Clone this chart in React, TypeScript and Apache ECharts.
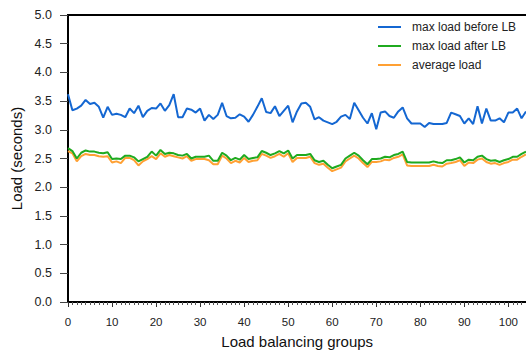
import React, { useEffect, useRef } from "react";
import * as echarts from "echarts";

const seriesNames = ["max load before LB", "max load after LB", "average load"];

const maxBefore = [
  3.62, 3.34, 3.37, 3.42, 3.52, 3.45, 3.47, 3.40, 3.21, 3.40, 3.26, 3.28, 3.26, 3.22, 3.37, 3.29, 3.42, 3.22, 3.33, 3.38,
  3.37, 3.46, 3.33, 3.43, 3.62, 3.22, 3.22, 3.37, 3.35, 3.30, 3.37, 3.16, 3.26, 3.19, 3.26, 3.47,
  3.24, 3.20, 3.21, 3.27, 3.23, 3.14, 3.26, 3.40, 3.55, 3.31, 3.29, 3.41, 3.24, 3.33, 3.42, 3.13, 3.32, 3.46, 3.47, 3.40,
  3.18, 3.22, 3.16, 3.13, 3.10, 3.14, 3.23, 3.26, 3.19, 3.47, 3.34, 3.21, 3.11,
  3.29, 3.01, 3.30, 3.32, 3.24, 3.21, 3.32, 3.39, 3.20, 3.11, 3.11, 3.11, 3.05, 3.12, 3.10, 3.10, 3.10, 3.12, 3.30, 3.27,
  3.24, 3.11, 3.20, 3.10, 3.41, 3.11, 3.37, 3.16, 3.16, 3.20, 3.13, 3.30, 3.30, 3.37, 3.20, 3.32,
];

const maxAfter = [
  2.68, 2.63, 2.50, 2.60, 2.64, 2.62, 2.62, 2.60, 2.59, 2.61, 2.49, 2.50, 2.49, 2.55, 2.55, 2.52, 2.45, 2.49, 2.53, 2.62,
  2.55, 2.65, 2.58, 2.60, 2.59, 2.56, 2.55, 2.58, 2.50, 2.53, 2.53, 2.53, 2.55, 2.46, 2.46,
  2.60, 2.55, 2.47, 2.51, 2.48, 2.56, 2.49, 2.51, 2.52, 2.63, 2.60, 2.56, 2.59, 2.63, 2.59, 2.64, 2.50, 2.56, 2.56, 2.56,
  2.58, 2.47, 2.44, 2.46, 2.39, 2.33, 2.36, 2.39, 2.50, 2.55, 2.60, 2.55, 2.47, 2.40,
  2.49, 2.49, 2.50, 2.53, 2.52, 2.56, 2.58, 2.62, 2.44, 2.43, 2.43, 2.43, 2.43, 2.43, 2.45, 2.43, 2.42, 2.47, 2.47, 2.49,
  2.52, 2.43, 2.48, 2.47, 2.53, 2.55, 2.49, 2.46, 2.47, 2.44, 2.47, 2.49, 2.53, 2.53, 2.58, 2.62,
];

const averageLoad = [
  2.63, 2.59, 2.45, 2.54, 2.58, 2.56, 2.56, 2.54, 2.53, 2.54, 2.43, 2.45, 2.42, 2.51, 2.51, 2.47, 2.38, 2.45, 2.49, 2.54,
  2.49, 2.59, 2.53, 2.56, 2.54, 2.52, 2.50, 2.54, 2.46, 2.49, 2.49, 2.49, 2.47, 2.40, 2.40,
  2.55, 2.50, 2.42, 2.46, 2.43, 2.51, 2.44, 2.46, 2.47, 2.58, 2.55, 2.51, 2.54, 2.58, 2.53, 2.59, 2.44, 2.51, 2.51, 2.51,
  2.53, 2.42, 2.39, 2.41, 2.34, 2.28, 2.31, 2.34, 2.45, 2.50, 2.55, 2.50, 2.42, 2.35,
  2.44, 2.44, 2.45, 2.48, 2.47, 2.51, 2.53, 2.57, 2.38, 2.37, 2.37, 2.37, 2.37, 2.37, 2.39, 2.37, 2.36, 2.41, 2.42, 2.44,
  2.47, 2.37, 2.43, 2.42, 2.48, 2.50, 2.44, 2.41, 2.42, 2.39, 2.42, 2.44, 2.48, 2.48, 2.53, 2.57,
];

const colors = ["#1467d2", "#1faa1f", "#ffa033"];
const FONT = "'Liberation Sans', Arial, Helvetica, sans-serif";

export default function App() {
  const ref = useRef<HTMLDivElement>(null);
  useEffect(() => {
    if (!ref.current) return;
    const chart = echarts.init(ref.current, null, { renderer: "svg" });
    const toPairs = (arr: number[]) => arr.map((v, i) => [i, v]);
    const allData = [maxBefore, maxAfter, averageLoad];
    chart.setOption({
      animation: false,
      backgroundColor: "#fff",
      textStyle: { fontFamily: FONT },
      grid: {
        left: 68,
        right: -26.4,
        top: 15,
        bottom: 48,
        containLabel: false,
        outerBoundsMode: "none",
        show: true,
        borderColor: "#000",
        borderWidth: 2,
      },
      legend: {
        orient: "vertical",
        left: 373,
        top: 15,
        icon: "rect",
        itemWidth: 23,
        itemHeight: 2,
        itemGap: 5,
        textStyle: { fontFamily: FONT, fontSize: 12, color: "#222", lineHeight: 14, padding: [0, 0, 0, 6] },
        data: seriesNames,
      },
      xAxis: {
        type: "value",
        min: 0,
        max: 110,
        interval: 10,
        name: "Load balancing groups",
        nameLocation: "middle",
        nameGap: 32,
        nameTextStyle: { fontFamily: FONT, fontSize: 15, color: "#111", padding: [0, 26, 0, 0] },
        axisLine: { show: true, lineStyle: { color: "#000", width: 2 } },
        axisTick: { show: true, length: 5, lineStyle: { color: "#333" } },
        minorTick: { show: true, splitNumber: 10, length: 3, lineStyle: { color: "#555" } },
        axisLabel: {
          fontFamily: FONT,
          fontSize: 11.5,
          color: "#222",
          margin: 14,
          showMaxLabel: false,
          formatter: (v: number) => (v > 100 ? "" : String(v)),
        },
        splitLine: { show: false },
      },
      yAxis: {
        type: "value",
        min: 0,
        max: 5,
        interval: 0.5,
        name: "Load (seconds)",
        nameLocation: "middle",
        nameGap: 43,
        nameTextStyle: { fontFamily: FONT, fontSize: 15, color: "#111" },
        axisLine: { show: true, lineStyle: { color: "#000", width: 2 } },
        axisTick: { show: true, length: 8, lineStyle: { color: "#444" } },
        axisLabel: { fontFamily: FONT, fontSize: 12.5, color: "#222", margin: 16, formatter: (v: number) => v.toFixed(1) },
        splitLine: { show: false },
      },
      series: seriesNames.map((name, k) => ({
        name,
        type: "line",
        data: toPairs(allData[k]),
        showSymbol: false,
        symbol: "none",
        lineStyle: { color: colors[k], width: 2 },
        itemStyle: { color: colors[k] },
        z: k === 1 ? 4 : 3,
      })),
    });
    return () => chart.dispose();
  }, []);
  return <div ref={ref} style={{ width: 526, height: 350, position: "absolute", left: 0, top: 0 }} />;
}
